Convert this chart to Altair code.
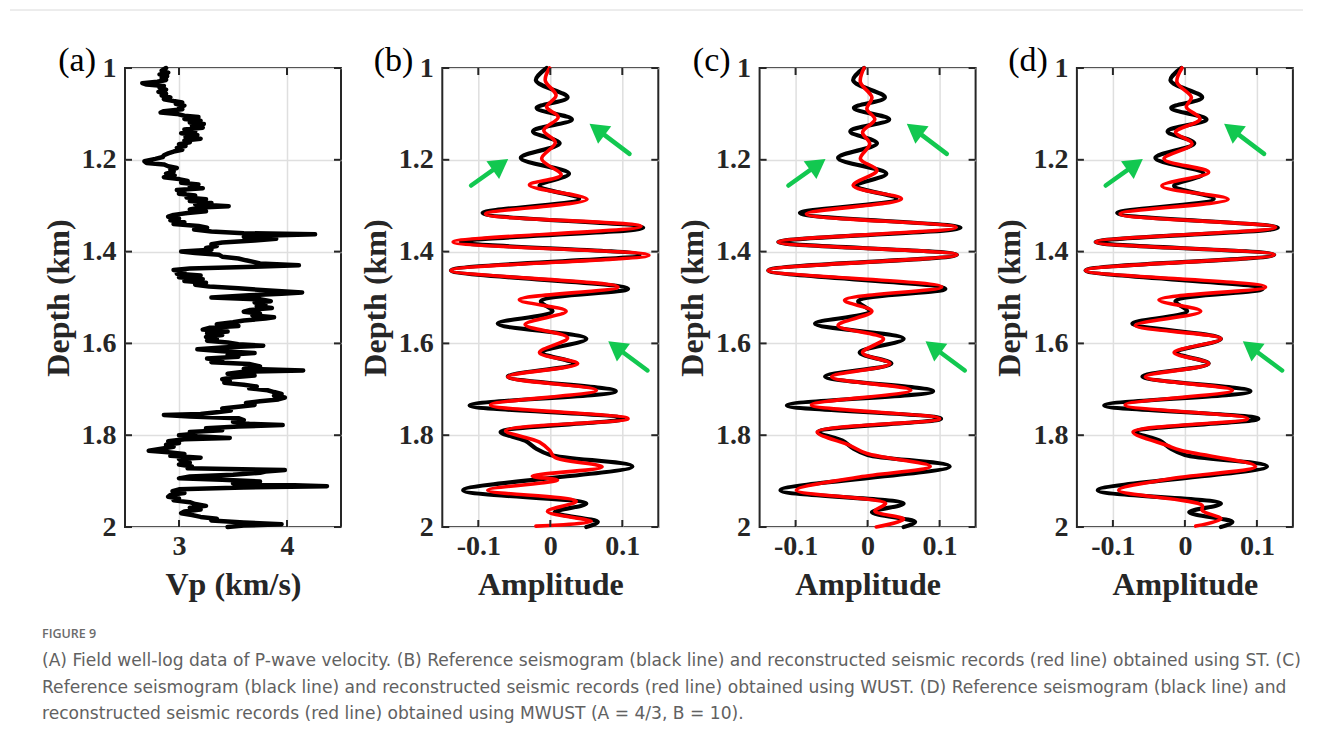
import math
import altair as alt
import pandas as pd

# ---------------- data ----------------
depth_ticks = [1.0, 1.2, 1.4, 1.6, 1.8, 2.0]
vp_ticks = [3, 4]
amp_ticks = [-0.1, 0.0, 0.1]

# (depth km, Vp km/s)
vp_log = [
    (1.000, 2.88), (1.006, 2.84), (1.010, 2.90), (1.014, 2.82), (1.018, 2.89), (1.022, 2.84),
    (1.026, 2.88), (1.030, 2.80), (1.033, 2.66), (1.036, 2.70), (1.039, 2.86), (1.043, 2.82),
    (1.047, 2.88), (1.052, 2.81), (1.056, 2.88), (1.060, 2.84), (1.064, 2.92), (1.068, 2.86),
    (1.072, 2.95), (1.075, 3.03), (1.078, 2.97), (1.082, 3.05), (1.085, 3.00), (1.090, 3.03),
    (1.094, 2.86), (1.097, 2.83), (1.100, 2.98), (1.104, 3.05), (1.107, 3.18), (1.111, 3.05),
    (1.115, 3.20), (1.119, 3.10), (1.122, 3.23), (1.126, 3.12), (1.130, 3.22), (1.134, 3.05),
    (1.138, 3.15), (1.142, 3.02), (1.146, 3.17), (1.150, 3.06), (1.154, 3.20), (1.158, 3.05),
    (1.162, 3.10), (1.166, 3.00), (1.170, 3.06), (1.174, 2.98), (1.178, 3.03), (1.182, 2.95),
    (1.186, 2.90), (1.190, 2.86), (1.194, 2.85), (1.198, 2.78), (1.203, 2.68), (1.207, 2.70),
    (1.210, 2.86), (1.214, 2.90), (1.218, 2.98), (1.222, 2.92), (1.226, 2.95), (1.230, 2.88),
    (1.234, 2.96), (1.238, 2.86), (1.242, 3.00), (1.246, 3.08), (1.250, 3.02), (1.254, 3.18),
    (1.258, 3.10), (1.262, 3.22), (1.266, 2.98), (1.270, 3.05), (1.274, 3.00), (1.278, 3.15),
    (1.282, 3.07), (1.286, 3.25), (1.290, 3.10), (1.294, 3.30), (1.297, 3.15), (1.301, 3.46),
    (1.304, 3.20), (1.308, 3.10), (1.312, 3.25), (1.316, 3.08), (1.320, 2.95), (1.324, 2.90),
    (1.328, 3.00), (1.332, 2.92), (1.336, 3.05), (1.340, 2.95), (1.344, 3.18), (1.348, 3.26),
    (1.352, 3.14), (1.356, 3.30), (1.360, 3.60), (1.362, 4.26), (1.365, 3.85), (1.368, 3.60),
    (1.372, 3.90), (1.376, 3.70), (1.380, 3.40), (1.384, 3.30), (1.388, 3.35), (1.392, 3.25),
    (1.396, 3.30), (1.400, 3.02), (1.403, 3.15), (1.407, 3.37), (1.411, 3.40), (1.415, 3.55),
    (1.419, 3.62), (1.423, 3.70), (1.426, 3.75), (1.430, 4.11), (1.433, 3.70), (1.437, 3.10),
    (1.440, 2.95), (1.444, 3.05), (1.448, 2.98), (1.452, 3.20), (1.456, 3.00), (1.460, 3.22),
    (1.464, 3.05), (1.468, 3.25), (1.472, 3.15), (1.476, 3.28), (1.480, 3.55), (1.484, 3.80),
    (1.489, 4.14), (1.492, 3.95), (1.495, 3.65), (1.500, 3.30), (1.504, 3.75), (1.508, 3.85),
    (1.511, 3.70), (1.515, 3.80), (1.519, 3.72), (1.523, 3.86), (1.527, 3.66), (1.531, 3.60),
    (1.535, 3.75), (1.539, 3.68), (1.543, 3.88), (1.546, 3.80), (1.550, 3.60), (1.554, 3.50),
    (1.558, 3.35), (1.562, 3.55), (1.566, 3.28), (1.570, 3.22), (1.574, 3.45), (1.578, 3.26),
    (1.582, 3.40), (1.586, 3.25), (1.590, 3.35), (1.594, 3.26), (1.598, 3.45), (1.602, 3.55),
    (1.605, 3.78), (1.609, 3.40), (1.613, 3.17), (1.617, 3.40), (1.621, 3.70), (1.625, 3.45),
    (1.629, 3.55), (1.633, 3.26), (1.637, 3.40), (1.641, 3.30), (1.645, 3.65), (1.650, 3.75),
    (1.655, 3.60), (1.659, 4.15), (1.662, 3.60), (1.666, 3.45), (1.670, 3.70), (1.674, 3.50),
    (1.678, 3.40), (1.682, 3.47), (1.686, 3.42), (1.690, 3.60), (1.694, 3.72), (1.698, 3.65),
    (1.702, 3.82), (1.706, 3.88), (1.710, 3.95), (1.714, 3.88), (1.718, 3.98), (1.722, 3.92),
    (1.726, 3.75), (1.730, 3.62), (1.734, 3.70), (1.738, 3.55), (1.742, 3.40), (1.746, 3.48),
    (1.750, 3.35), (1.754, 3.20), (1.756, 2.86), (1.759, 3.10), (1.763, 3.55), (1.767, 3.60),
    (1.771, 3.50), (1.775, 3.65), (1.778, 3.96), (1.781, 3.55), (1.785, 3.25), (1.789, 3.40),
    (1.793, 3.10), (1.797, 3.15), (1.800, 3.00), (1.803, 3.20), (1.806, 3.47), (1.809, 3.05),
    (1.813, 2.90), (1.817, 3.00), (1.821, 2.88), (1.825, 2.95), (1.829, 2.85), (1.834, 2.72),
    (1.837, 2.90), (1.841, 3.05), (1.845, 2.92), (1.849, 3.20), (1.852, 3.00), (1.856, 3.02),
    (1.860, 3.10), (1.864, 3.00), (1.868, 3.12), (1.872, 3.08), (1.876, 3.98), (1.879, 3.80),
    (1.882, 3.75), (1.886, 3.50), (1.890, 3.10), (1.894, 3.00), (1.897, 3.40), (1.901, 3.75),
    (1.905, 3.50), (1.911, 4.37), (1.914, 3.60), (1.918, 3.00), (1.922, 2.94), (1.926, 3.05),
    (1.930, 2.92), (1.934, 2.90), (1.938, 3.00), (1.942, 2.95), (1.946, 3.10), (1.950, 3.15),
    (1.954, 3.25), (1.958, 3.10), (1.962, 3.20), (1.966, 3.05), (1.970, 3.02), (1.974, 3.12),
    (1.978, 3.20), (1.982, 3.35), (1.986, 3.30), (1.990, 3.60), (1.994, 3.95), (1.997, 3.60),
    (2.000, 3.45),
]

# reference seismogram (black), (depth, amplitude) at turning points
ref_trace = [
    (1.000, -0.005), (1.027, -0.020), (1.064, 0.024), (1.087, -0.019), (1.112, 0.030),
    (1.138, -0.024), (1.164, 0.013), (1.196, -0.041), (1.230, 0.026), (1.257, -0.015),
    (1.285, 0.040), (1.316, -0.094), (1.348, 0.129), (1.379, -0.124), (1.407, 0.124),
    (1.441, -0.138), (1.481, 0.108), (1.508, -0.013), (1.530, 0.003), (1.557, -0.073),
    (1.590, 0.050), (1.620, -0.011), (1.644, 0.033), (1.672, -0.059), (1.704, 0.091),
    (1.735, -0.112), (1.764, 0.102), (1.793, -0.069), (1.812, -0.035), (1.829, -0.020),
    (1.843, 0.000), (1.868, 0.114), (1.920, -0.121), (1.949, 0.050), (1.968, 0.006),
    (1.989, 0.066), (2.000, 0.050),
]

# reconstructed records (red)
st_trace = [
    (1.000, -0.001), (1.027, -0.007), (1.060, 0.008), (1.085, -0.005), (1.107, 0.011),
    (1.136, -0.009), (1.162, 0.007), (1.198, -0.012), (1.233, 0.015), (1.255, -0.029),
    (1.286, 0.051), (1.318, -0.090), (1.345, 0.126), (1.379, -0.135), (1.408, 0.137),
    (1.441, -0.138), (1.477, 0.094), (1.505, -0.043), (1.530, 0.022), (1.559, -0.035),
    (1.588, 0.024), (1.620, -0.015), (1.644, 0.038), (1.673, -0.059), (1.702, 0.064),
    (1.734, -0.083), (1.764, 0.108), (1.790, -0.062), (1.815, -0.015), (1.833, -0.001),
    (1.848, 0.006), (1.869, 0.072), (1.889, -0.025), (1.898, 0.010), (1.920, -0.087),
    (1.944, 0.036), (1.966, -0.004), (1.988, 0.057), (1.998, -0.020),
]
wust_trace = [
    (1.000, -0.005), (1.031, -0.010), (1.064, 0.006), (1.089, -0.001), (1.112, 0.010),
    (1.140, -0.007), (1.165, 0.003), (1.198, -0.010), (1.223, 0.013), (1.256, -0.020),
    (1.285, 0.047), (1.318, -0.085), (1.347, 0.123), (1.379, -0.124), (1.407, 0.124),
    (1.441, -0.138), (1.477, 0.103), (1.506, -0.032), (1.530, 0.006), (1.561, -0.041),
    (1.590, 0.022), (1.620, -0.007), (1.644, 0.031), (1.673, -0.050), (1.702, 0.060),
    (1.734, -0.078), (1.764, 0.100), (1.793, -0.070), (1.822, -0.025), (1.840, -0.001),
    (1.868, 0.087), (1.891, -0.011), (1.920, -0.099), (1.949, 0.025), (1.965, 0.010),
    (1.983, 0.050), (2.000, 0.012),
]
mwust_trace = [
    (1.000, -0.004), (1.031, -0.011), (1.064, 0.009), (1.085, 0.002), (1.111, 0.021),
    (1.140, -0.013), (1.165, 0.010), (1.198, -0.029), (1.227, 0.033), (1.257, -0.032),
    (1.286, 0.060), (1.318, -0.090), (1.347, 0.126), (1.379, -0.124), (1.407, 0.124),
    (1.441, -0.138), (1.477, 0.112), (1.505, -0.036), (1.530, 0.022), (1.561, -0.069),
    (1.590, 0.050), (1.620, -0.015), (1.644, 0.033), (1.673, -0.055), (1.702, 0.066),
    (1.734, -0.083), (1.764, 0.087), (1.793, -0.072), (1.822, -0.025), (1.833, -0.006),
    (1.868, 0.098), (1.895, -0.020), (1.920, -0.092), (1.953, 0.024), (1.964, 0.024),
    (1.982, 0.050), (1.998, 0.015),
]

# green arrows: (amplitude, depth) of tail and tip
arrow_tails = [(-0.110, 1.256), (0.110, 1.187), (0.135, 1.659)]
arrow_tips = [(-0.059, 1.199), (0.055, 1.122), (0.081, 1.596)]

panel_letters = ["(a)", "(b)", "(c)", "(d)"]
caption_head = "FIGURE 9"
caption_lines = [
    "(A) Field well-log data of P-wave velocity. (B) Reference seismogram (black line) and reconstructed seismic records (red line) obtained using ST. (C)",
    "Reference seismogram (black line) and reconstructed seismic records (red line) obtained using WUST. (D) Reference seismogram (black line) and",
    "reconstructed seismic records (red line) obtained using MWUST (A = 4/3, B = 10).",
]

# ---------------- styling ----------------
FONT = "Liberation Serif"
CAP_FONT = "DejaVu Sans"
INK = "#262626"
GREEN = "#12c850"
W, H = 216, 459
TICK = 7


def axis_y():
    return alt.Axis(values=depth_ticks, title="Depth (km)", format="~g")


def axis_x(ticks, title, expr):
    return alt.Axis(values=ticks, title=title, labelExpr=expr)


def tick_layers(xscale, yscale, xaxis, yaxis, xticks):
    ydf = pd.DataFrame({"depth": depth_ticks})
    xdf = pd.DataFrame({"x": xticks})
    Y = alt.Y("depth:Q", scale=yscale, axis=yaxis)
    X = alt.X("x:Q", scale=xscale, axis=xaxis)
    rule = dict(color=INK, strokeWidth=2)
    return [
        alt.Chart(ydf).mark_rule(**rule).encode(y=Y, x=alt.value(0), x2=alt.value(TICK)),
        alt.Chart(ydf).mark_rule(**rule).encode(y=Y, x=alt.value(W - TICK), x2=alt.value(W)),
        alt.Chart(xdf).mark_rule(**rule).encode(x=X, y=alt.value(0), y2=alt.value(TICK)),
        alt.Chart(xdf).mark_rule(**rule).encode(x=X, y=alt.value(H - TICK), y2=alt.value(H)),
    ]


def letter_layer(letter):
    return alt.Chart(pd.DataFrame({"t": [letter]})).mark_text(
        font=FONT, fontSize=34, fontWeight="normal", color="#000000",
        align="right", baseline="middle",
    ).encode(x=alt.value(-29), y=alt.value(-7), text="t:N")


def trace_df(trace):
    return pd.DataFrame({"depth": [d for d, _ in trace], "x": [a for _, a in trace]})


def arrow_df(xspan):
    px_x = W / xspan
    px_y = H / 1.0
    rows = []
    for (ta, td), (ha, hd) in zip(arrow_tails, arrow_tips):
        dx = (ha - ta) * px_x
        dy = (hd - td) * px_y
        L = math.hypot(dx, dy)
        ux, uy = dx / L, dy / L
        rows.append(dict(
            x=ta, depth=td,
            xc=ha - 9 * ux / px_x, dc=hd - 9 * uy / px_y,
            angle=(math.degrees(math.atan2(ux, -uy)) + 360) % 360,
        ))
    return pd.DataFrame(rows)


amp_expr = ("datum.value == 0 ? '0' : (datum.value < 0 ? '-' + format(-datum.value, '.1f')"
            " : format(datum.value, '.1f'))")

yscale = alt.Scale(domain=[1, 2], reverse=True, nice=False, zero=False)

# ---------- panel (a) ----------
xs_a = alt.Scale(domain=[2.5, 4.5], nice=False, zero=False)
xa_a = axis_x(vp_ticks, "Vp (km/s)", "format(datum.value, '~g')")
ya = axis_y()
vp_df = trace_df(vp_log)
vp_line = alt.Chart(vp_df).mark_line(
    color="#000000", strokeWidth=4.5, strokeJoin="round", strokeCap="round"
).encode(
    x=alt.X("x:Q", scale=xs_a, axis=xa_a),
    y=alt.Y("depth:Q", scale=yscale, axis=ya),
    order=alt.Order("depth:Q"),
)

caption_layers = [
    alt.Chart(pd.DataFrame({"t": [caption_head]})).mark_text(
        font="Open Sans", fontSize=12.5, fontWeight=600, color="#6b6b6b",
        align="left", baseline="middle",
    ).encode(x=alt.value(-83), y=alt.value(566), text="t:N")
]
for i, line in enumerate(caption_lines):
    caption_layers.append(
        alt.Chart(pd.DataFrame({"t": [line]})).mark_text(
            font=CAP_FONT, fontSize=17.1, color="#616161",
            align="left", baseline="middle",
        ).encode(x=alt.value(-83), y=alt.value(593 + 26.5 * i), text="t:N")
    )

top_rule = alt.Chart(pd.DataFrame({"t": [0]})).mark_rule(
    color="#dadada", strokeWidth=1
).encode(x=alt.value(-115), x2=alt.value(1178), y=alt.value(-58))

panel_a = alt.layer(
    vp_line,
    *tick_layers(xs_a, yscale, xa_a, ya, vp_ticks),
    letter_layer(panel_letters[0]),
    *caption_layers,
    top_rule,
).properties(width=W, height=H)


# ---------- seismogram panels ----------
def seis_panel(red_trace, letter):
    xs = alt.Scale(domain=[-0.15, 0.15], nice=False, zero=False)
    xa = axis_x(amp_ticks, "Amplitude", amp_expr)
    yaxis = axis_y()
    X = alt.X("x:Q", scale=xs, axis=xa)
    Y = alt.Y("depth:Q", scale=yscale, axis=yaxis)
    black = alt.Chart(trace_df(ref_trace)).mark_line(
        color="#000000", strokeWidth=4.2, interpolate="catmull-rom", strokeCap="round"
    ).encode(x=X, y=Y, order=alt.Order("depth:Q"))
    red = alt.Chart(trace_df(red_trace)).mark_line(
        color="#ff0000", strokeWidth=3.6, interpolate="catmull-rom", strokeCap="round"
    ).encode(x=X, y=Y, order=alt.Order("depth:Q"))
    adf = arrow_df(0.30)
    shaft = alt.Chart(adf).mark_rule(color=GREEN, strokeWidth=4.5, strokeCap="round").encode(
        x=X, y=Y, x2="xc:Q", y2="dc:Q"
    )
    head = alt.Chart(adf).mark_point(
        shape="triangle-up", filled=True, color=GREEN, opacity=1, size=480, strokeWidth=0
    ).encode(
        x=alt.X("xc:Q", scale=xs, axis=xa),
        y=alt.Y("dc:Q", scale=yscale, axis=yaxis),
        angle=alt.Angle("angle:Q", scale=None),
    )
    return alt.layer(
        black, red, shaft, head,
        *tick_layers(xs, yscale, xa, yaxis, amp_ticks),
        letter_layer(letter),
    ).properties(width=W, height=H)


panel_b = seis_panel(st_trace, panel_letters[1])
panel_c = seis_panel(wust_trace, panel_letters[2])
panel_d = seis_panel(mwust_trace, panel_letters[3])

chart = alt.hconcat(
    panel_a, panel_b, panel_c, panel_d, spacing=101.3, bounds="flush"
).properties(
    padding={"left": 0, "top": 0, "right": 0, "bottom": 4}
).configure_view(
    stroke=INK, strokeWidth=2
).configure_axis(
    labelFont=FONT, labelFontSize=28, labelFontWeight="bold", labelColor=INK,
    titleFont=FONT, titleFontSize=32, titleFontWeight="bold", titleColor=INK,
    grid=True, gridColor="#dfdfdf", gridWidth=1.5,
    domain=False, ticks=False,
).configure_axisX(
    labelPadding=5, titlePadding=9,
).configure_axisY(
    labelPadding=9, titlePadding=6,
)

chart.save("out.html", embed_options={"renderer": "svg", "actions": False})
